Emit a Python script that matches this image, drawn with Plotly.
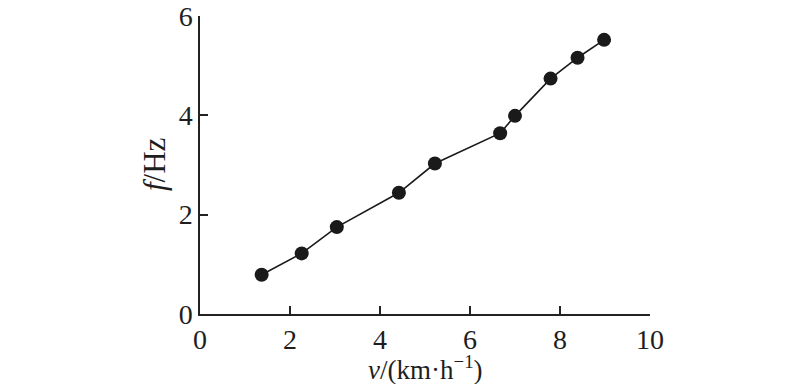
import plotly.graph_objects as go

speed = [1.37, 2.26, 3.04, 4.42, 5.22, 6.67, 7.0, 7.79, 8.39, 8.98]
freq = [0.79, 1.22, 1.75, 2.44, 3.03, 3.64, 3.99, 4.74, 5.16, 5.52]
x_ticks = [0, 2, 4, 6, 8, 10]
y_ticks = [0, 2, 4, 6]
x_title = "<i>v</i>/(km·h<sup>−1</sup>)"
y_title = "<i>f</i>/Hz"

fig = go.Figure(go.Scatter(
    x=speed, y=freq, mode="lines+markers",
    line=dict(color="#1a1a1a", width=1.6),
    marker=dict(color="#1a1a1a", size=14),
))

font = dict(family="Liberation Serif", size=28, color="#1e1e1e")
fig.update_layout(
    width=800, height=384,
    margin=dict(l=200, r=150, t=16, b=70, autoexpand=False),
    plot_bgcolor="white", paper_bgcolor="white",
    showlegend=False, font=font,
)
fig.update_xaxes(
    range=[0, 10], tickvals=x_ticks, ticks="inside", ticklen=8, tickwidth=1.5,
    tickcolor="#222", showline=True, linecolor="#222", linewidth=1.5,
    showgrid=False, zeroline=False, automargin=False, tickfont=font,
)
fig.update_yaxes(
    range=[0, 6], tickvals=y_ticks, ticks="inside", ticklen=8, tickwidth=1.5,
    tickcolor="#222", showline=True, linecolor="#222", linewidth=1.5,
    showgrid=False, zeroline=False, automargin=False, tickfont=font,
)
fig.add_annotation(text=x_title, xref="paper", yref="paper", x=0.5, y=0,
                   yshift=-54, showarrow=False,
                   font=dict(family="Liberation Serif", size=27, color="#1e1e1e"),
                   yanchor="middle")
fig.add_annotation(text=y_title, xref="paper", yref="paper", x=0, y=0.5,
                   xshift=-46, showarrow=False,
                   font=dict(family="Liberation Serif", size=31, color="#1e1e1e"),
                   textangle=-90, xanchor="center", yanchor="middle")
fig.write_html(
    "out.html",
    config={"displayModeBar": False},
    post_script="document.body.style.margin='0';document.body.style.overflow='hidden';",
)
